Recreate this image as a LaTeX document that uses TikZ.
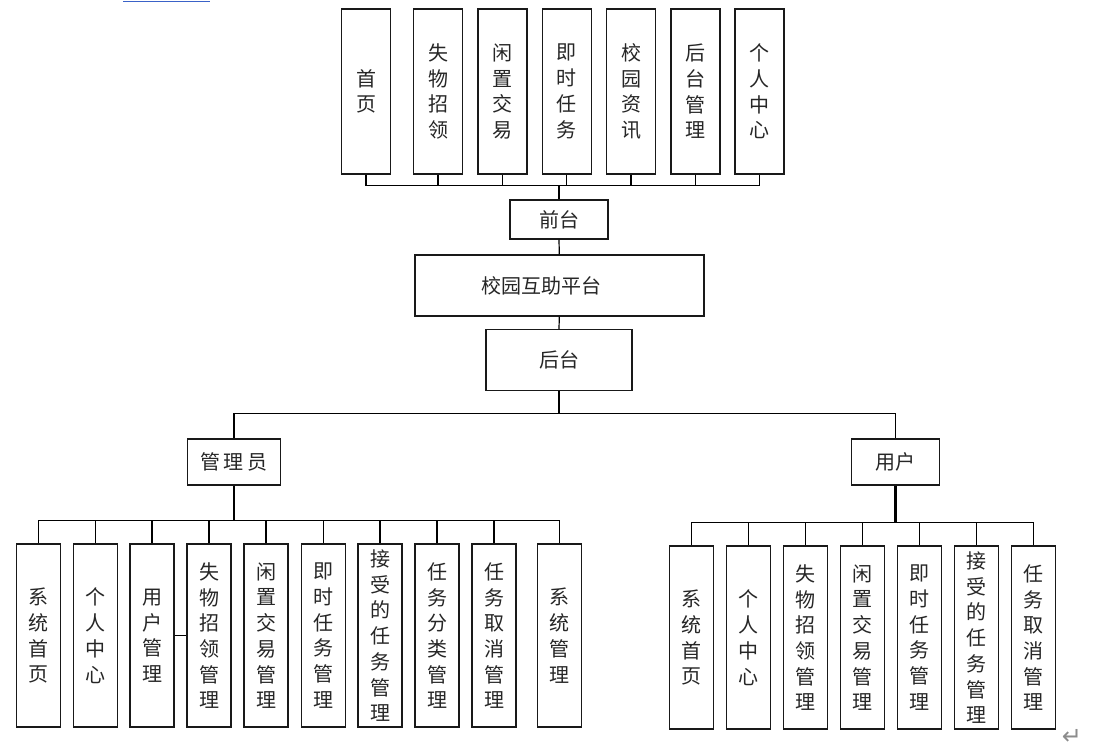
\documentclass[tikz,border=0pt]{standalone}
\usepackage{fontspec}
\newfontfamily\cjk{Noto Sans CJK SC}
\newfontfamily\symfont{DejaVu Sans}
\usepackage{tikz}

\definecolor{uline}{RGB}{58,98,200}

\tikzset{
  box/.style={draw=black!90, line width=1.1pt, fill=white, inner sep=0pt, align=center,
    text=black!85, font=\cjk\fontsize{15pt}{19.3pt}\selectfont},
  tallbox/.style={box, minimum width=36.75pt, minimum height=123.75pt},
  leafbox/.style={box, minimum width=33pt, minimum height=137.25pt},
  link/.style={line width=0.9pt},
  stem/.style={line width=1.7pt},
}

\begin{document}
\begin{tikzpicture}[x=0.75pt, y=-0.75pt]
  \useasboundingbox (0,0) rectangle (1116,749);
  \draw[line width=1pt, uline] (123,1.5) -- (210,1.5);

  % front side
  \foreach \n/\x/\t in {1/366/首\\页, 2/438/失\\物\\招\\领, 3/502.5/闲\\置\\交\\易,
      4/566.8/即\\时\\任\\务, 5/631/校\\园\\资\\讯, 6/695.3/后\\台\\管\\理, 7/759.5/个\\人\\中\\心}
    \node[tallbox] (f\n) at (\x,91.5) {\t};
  \node[box, minimum width=73.5pt, minimum height=29.25pt] (qt) at (559,219.5) {前台};
  \node[box, minimum width=216.75pt, minimum height=45.75pt] (pt) at (559.3,285.5) {校园互助平台\hspace*{27pt}};
  \node[box, minimum width=109.5pt, minimum height=45.75pt] (bt) at (559,360) {后台};
  \coordinate (fbus) at (559,185.7);
  \foreach \n in {1,...,7}
    \draw[link] (f\n.south) |- (fbus);
  \draw[stem] (fbus) -- (qt.north);
  \draw[link] (qt.south) -- (pt.north);
  \draw[link] (pt.south) -- (bt.north);

  % back side
  \node[box, minimum width=69.75pt, minimum height=34.5pt] (adm) at (234,462) {管\,理\,员};
  \node[box, minimum width=66pt, minimum height=34.5pt] (usr) at (895.5,462) {用户};
  \coordinate (bbus) at (559,413.3);
  \draw[link] (bt.south) -- (bbus);
  \draw[link] (bbus) -| (adm.north);
  \draw[link] (bbus) -| (usr.north);

  % admin
  \foreach \n/\x/\t in {1/38.5/系\\统\\首\\页, 2/95.5/个\\人\\中\\心, 3/152/用\\户\\管\\理,
      4/209/失\\物\\招\\领\\管\\理, 5/266/闲\\置\\交\\易\\管\\理, 6/323.3/即\\时\\任\\务\\管\\理,
      7/380/接\\受\\的\\任\\务\\管\\理, 8/437/任\\务\\分\\类\\管\\理, 9/494/任\\务\\取\\消\\管\\理,
      10/559.3/系\\统\\管\\理}
    \node[leafbox] (a\n) at (\x,635.7) {\t};
  \coordinate (abus) at (234,520.7);
  \draw[stem] (adm.south) -- (abus);
  \foreach \n in {1,...,10}
    \draw[link] (abus) -| (a\n.north);
  \draw[link] (a3.east) -- (a4.west);

  % user
  \foreach \n/\x/\t in {1/691.7/系\\统\\首\\页, 2/748.7/个\\人\\中\\心, 3/805.7/失\\物\\招\\领\\管\\理,
      4/862.5/闲\\置\\交\\易\\管\\理, 5/919.5/即\\时\\任\\务\\管\\理, 6/976.5/接\\受\\的\\任\\务\\管\\理,
      7/1033.5/任\\务\\取\\消\\管\\理}
    \node[leafbox] (u\n) at (\x,637.7) {\t};
  \coordinate (ubus) at (895.5,522.7);
  \draw[stem] (usr.south) -- (ubus);
  \foreach \n in {1,...,7}
    \draw[link] (ubus) -| (u\n.north);

  \node[text=black!45, font=\symfont\fontsize{18pt}{18pt}\selectfont] (pm) at (1072,737) {↵};
\end{tikzpicture}
\end{document}
